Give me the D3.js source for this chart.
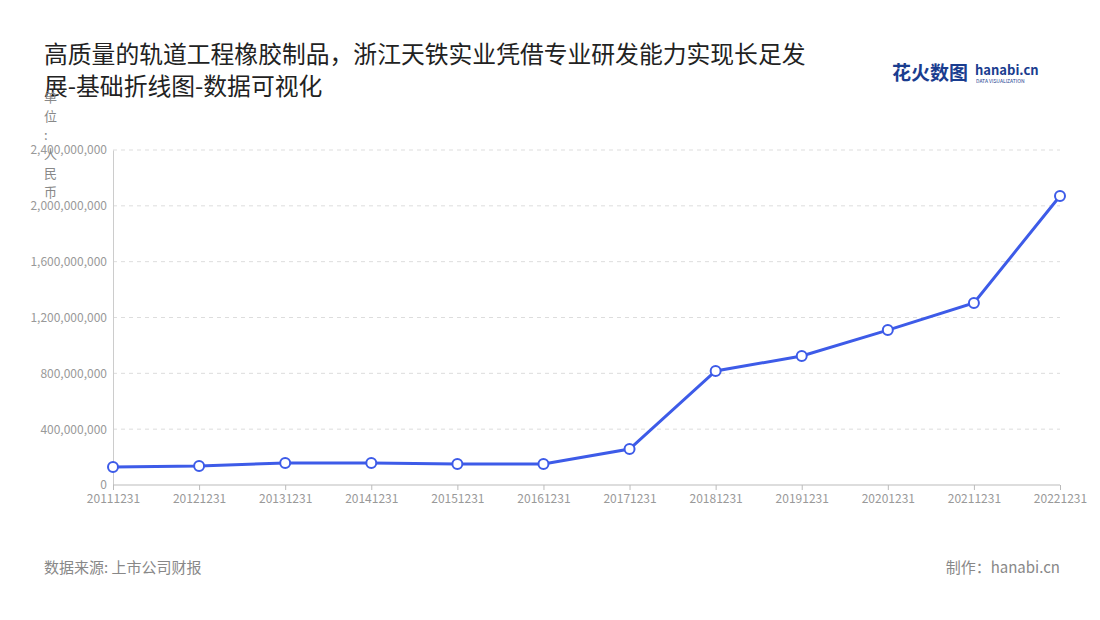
<!DOCTYPE html>
<html><head><meta charset="utf-8">
<script src="https://cdn.jsdelivr.net/npm/d3@7"></script>
<style>body{margin:0;background:#fff;font-family:"Noto Sans CJK SC","Noto Sans",sans-serif}</style>
</head><body><svg id="c" width="1100" height="620"></svg>
<script>
const categories=["20111231","20121231","20131231","20141231","20151231","20161231","20171231","20181231","20191231","20201231","20211231","20221231"];
const values=[129e6,136e6,158e6,158e6,150e6,150e6,258e6,817e6,924e6,1110e6,1304e6,2070e6];
const yTicks=[0,400e6,800e6,1200e6,1600e6,2000e6,2400e6];
const svg=d3.select("#c");
const F='"Noto Sans CJK SC","Noto Sans",sans-serif';
const x=d3.scalePoint().domain(categories).range([113,1060]);
const y=d3.scaleLinear().domain([0,2400e6]).range([485,150]);
svg.append("text").attr("x",44).attr("y",63).attr("font-size",23.8).attr("fill","#222").attr("font-family",F).text("高质量的轨道工程橡胶制品，浙江天铁实业凭借专业研发能力实现长足发");
svg.append("text").attr("x",44).attr("y",95).attr("font-size",23.8).attr("fill","#222").attr("font-family",F).text("展-基础折线图-数据可视化");
const lg=svg.append("g").attr("font-family",F);
lg.append("text").attr("x",892).attr("y",80).attr("font-size",19).attr("font-weight","bold").attr("fill","#1a3d8f").text("花火数图");
lg.append("text").attr("x",975).attr("y",75).attr("font-size",13).attr("font-weight","bold").attr("fill","#1a3d8f").text("hanabi.cn");
lg.append("text").attr("x",976).attr("y",83).attr("font-size",5).attr("fill","#1a3d8f").text("DATA VISUALIZATION");
const g=svg.append("g");
yTicks.forEach(t=>{ if(t>0) g.append("line").attr("x1",113).attr("x2",1060).attr("y1",y(t)).attr("y2",y(t)).attr("stroke","#ddd").attr("stroke-dasharray","4,4");});
const ya=g.append("g").attr("transform","translate(113,0)").call(d3.axisLeft(y).tickValues(yTicks).tickFormat(d3.format(",")).tickSize(0).tickPadding(6));
ya.select(".domain").attr("stroke","#ccc");
ya.selectAll("text").attr("fill","#999").attr("font-size",12).attr("font-family",F);
const xa=g.append("g").attr("transform","translate(0,485)").call(d3.axisBottom(x).tickSize(5).tickPadding(4));
xa.select(".domain").attr("stroke","#bbb").attr("d","M113,0H1060");
xa.selectAll("line").attr("stroke","#bbb");
xa.selectAll("text").attr("fill","#999").attr("font-size",12).attr("font-family",F);
const ut=svg.append("text").attr("font-size",13).attr("fill","#888").attr("font-family",F);
"单位：人民币".split("").forEach((ch,i)=>ut.append("tspan").attr("x",44).attr("y",102+i*19).text(ch==="："?":":ch));
const pts=categories.map((c,i)=>[x(c),y(values[i])]);
g.append("path").attr("d",d3.line()(pts)).attr("fill","none").attr("stroke","#3d5be8").attr("stroke-width",3);
g.selectAll("circle").data(pts).join("circle").attr("cx",d=>d[0]).attr("cy",d=>d[1]).attr("r",5).attr("fill","#fff").attr("stroke","#3d5be8").attr("stroke-width",2);
svg.append("text").attr("x",44).attr("y",573).attr("font-size",15).attr("fill","#888").attr("font-family",F).text("数据来源: 上市公司财报");
svg.append("text").attr("x",1060).attr("y",573).attr("text-anchor","end").attr("font-size",15).attr("fill","#888").attr("font-family",F).text("制作：hanabi.cn");
</script></body></html>
